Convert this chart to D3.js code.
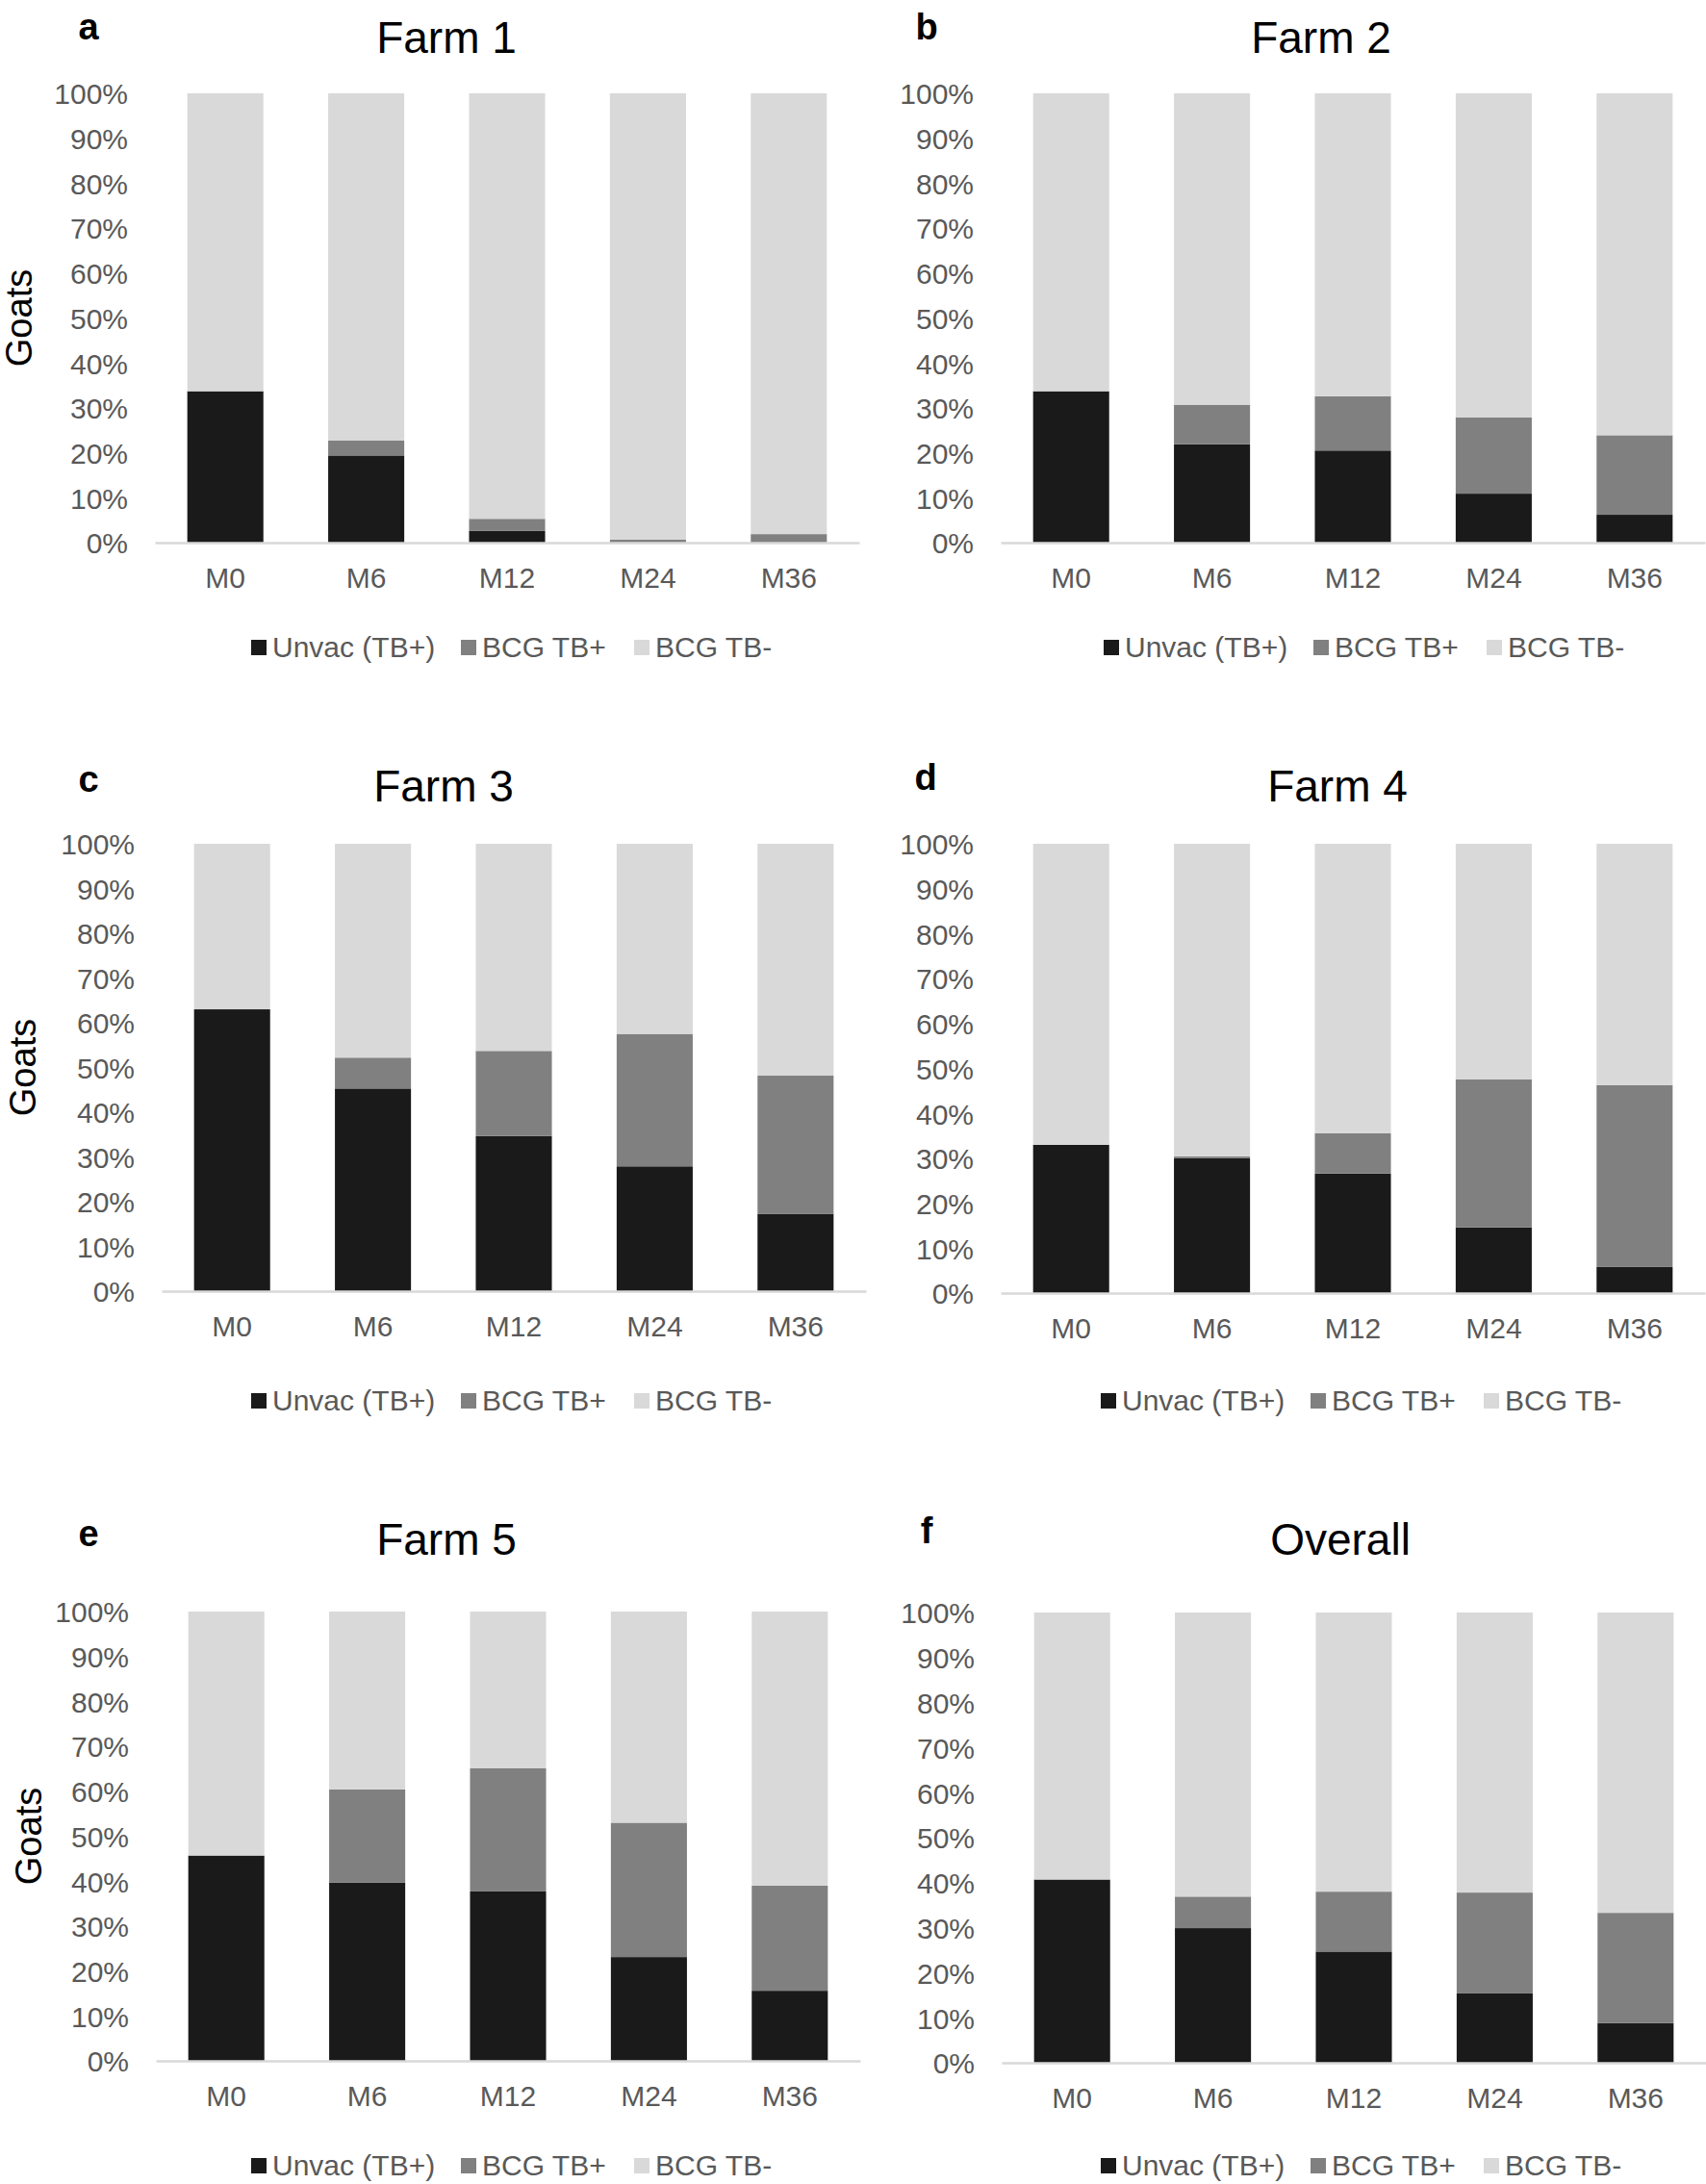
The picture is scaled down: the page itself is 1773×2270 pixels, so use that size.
<!DOCTYPE html>
<html>
<head>
<meta charset="utf-8">
<script src="https://cdn.jsdelivr.net/npm/d3@7"></script>
<style>
  body { margin: 0; background: #fff; }
  svg { display: block; font-family: "Liberation Sans", Arial, sans-serif; }
</style>
</head>
<body>
<svg id="chart" width="1773" height="2270"></svg>
<script>
// time points and series
const months = ["M0", "M6", "M12", "M24", "M36"];
const seriesNames = ["Unvac (TB+)", "BCG TB+", "BCG TB-"];
const panelTitles = ["Farm 1", "Farm 2", "Farm 3", "Farm 4", "Farm 5", "Overall"];
const panelLetters = ["a", "b", "c", "d", "e", "f"];
const yTicks = [0, 10, 20, 30, 40, 50, 60, 70, 80, 90, 100];

// percentages (M0, M6, M12, M24, M36)
const farm1Unvac = [33.7, 19.4, 2.6, 0, 0];
const farm1BcgPos = [0, 3.3, 2.7, 0.7, 1.9];
const farm1BcgNeg = [66.3, 77.3, 94.7, 99.3, 98.1];

const farm2Unvac = [33.7, 21.9, 20.5, 10.9, 6.2];
const farm2BcgPos = [0, 8.8, 12.1, 17.0, 17.7];
const farm2BcgNeg = [66.3, 69.3, 67.4, 72.1, 76.1];

const farm3Unvac = [63.0, 45.3, 34.7, 27.9, 17.3];
const farm3BcgPos = [0, 6.9, 19.0, 29.6, 30.9];
const farm3BcgNeg = [37.0, 47.8, 46.3, 42.5, 51.8];

const farm4Unvac = [33.0, 30.0, 26.6, 14.6, 5.8];
const farm4BcgPos = [0, 0.4, 9.0, 33.0, 40.5];
const farm4BcgNeg = [67.0, 69.6, 64.4, 52.4, 53.7];

const farm5Unvac = [45.7, 39.7, 37.7, 23.1, 15.6];
const farm5BcgPos = [0, 20.7, 27.4, 29.9, 23.4];
const farm5BcgNeg = [54.3, 39.6, 34.9, 47.0, 61.0];

const overallUnvac = [40.7, 29.9, 24.7, 15.4, 8.8];
const overallBcgPos = [0, 7.0, 13.3, 22.4, 24.5];
const overallBcgNeg = [59.3, 63.1, 62.0, 62.2, 66.7];

const panelSeries = [
  [farm1Unvac, farm1BcgPos, farm1BcgNeg],
  [farm2Unvac, farm2BcgPos, farm2BcgNeg],
  [farm3Unvac, farm3BcgPos, farm3BcgNeg],
  [farm4Unvac, farm4BcgPos, farm4BcgNeg],
  [farm5Unvac, farm5BcgPos, farm5BcgNeg],
  [overallUnvac, overallBcgPos, overallBcgNeg]
];

const colors = ["#1a1a1a", "#808080", "#d9d9d9"];

// panel geometry (plot boxes and text anchors)
const layout = [
  { x0: 161, top: 97, bottom: 564, titleX: 464, titleY: 39, letterX: 92, letterY: 28, goatsX: 20, legendX: 261, legendY: 672 },
  { x0: 1040, top: 97, bottom: 564, titleX: 1373, titleY: 39, letterX: 963, letterY: 28, goatsX: null, legendX: 1147, legendY: 672 },
  { x0: 168, top: 877, bottom: 1342, titleX: 461, titleY: 817, letterX: 92, letterY: 810, goatsX: 24, legendX: 261, legendY: 1455 },
  { x0: 1040, top: 877, bottom: 1344, titleX: 1390, titleY: 817, letterX: 962, letterY: 808, goatsX: null, legendX: 1144, legendY: 1455 },
  { x0: 162, top: 1675, bottom: 2142, titleX: 464, titleY: 1600, letterX: 92, letterY: 1594, goatsX: 30, legendX: 261, legendY: 2250 },
  { x0: 1041, top: 1676, bottom: 2144, titleX: 1393, titleY: 1600, letterX: 963, letterY: 1591, goatsX: null, legendX: 1144, legendY: 2250 }
];

const svg = d3.select("#chart");
const plotWidth = 732;
const legendOffsets = [0, 218, 398];

layout.forEach((p, i) => {
  const g = svg.append("g");

  const rows = months.map((m, j) => ({
    month: m,
    [seriesNames[0]]: panelSeries[i][0][j],
    [seriesNames[1]]: panelSeries[i][1][j],
    [seriesNames[2]]: panelSeries[i][2][j]
  }));
  const stacked = d3.stack().keys(seriesNames)(rows);

  const x = d3.scaleBand()
    .domain(months)
    .range([p.x0, p.x0 + plotWidth])
    .paddingInner(0.46)
    .paddingOuter(0.23);

  const y = d3.scaleLinear().domain([0, 100]).range([p.bottom, p.top]);

  // bars
  g.selectAll("g.layer")
    .data(stacked)
    .join("g")
    .attr("class", "layer")
    .attr("fill", (d, k) => colors[k])
    .selectAll("rect")
    .data(d => d)
    .join("rect")
    .attr("x", d => x(d.data.month))
    .attr("width", x.bandwidth())
    .attr("y", d => y(d[1]))
    .attr("height", d => y(d[0]) - y(d[1]));

  // y axis
  const yAxis = g.append("g")
    .attr("transform", `translate(${p.x0},0)`)
    .call(d3.axisLeft(y).tickValues(yTicks).tickSize(0).tickPadding(28).tickFormat(d => d + "%"));
  yAxis.select(".domain").remove();
  yAxis.selectAll("text")
    .attr("fill", "#595959")
    .style("font-size", "30px")
    .attr("dy", "0.36em");

  // x axis
  const xAxis = g.append("g")
    .attr("transform", `translate(0,${p.bottom})`)
    .call(d3.axisBottom(x).tickSize(0).tickPadding(26));
  xAxis.select(".domain")
    .attr("stroke", "#d9d9d9")
    .attr("stroke-width", 2.5);
  xAxis.selectAll("text")
    .attr("fill", "#595959")
    .style("font-size", "30px");

  // title and panel letter
  g.append("text")
    .attr("x", p.titleX)
    .attr("y", p.titleY)
    .attr("text-anchor", "middle")
    .attr("dominant-baseline", "central")
    .style("font-size", "46px")
    .attr("fill", "#000")
    .text(panelTitles[i]);

  g.append("text")
    .attr("x", p.letterX)
    .attr("y", p.letterY)
    .attr("text-anchor", "middle")
    .attr("dominant-baseline", "central")
    .style("font-size", "38px")
    .style("font-weight", "bold")
    .attr("fill", "#000")
    .text(panelLetters[i]);

  if (p.goatsX !== null) {
    const cy = (p.top + p.bottom) / 2;
    g.append("text")
      .attr("transform", `translate(${p.goatsX},${cy}) rotate(-90)`)
      .attr("text-anchor", "middle")
      .attr("dominant-baseline", "central")
      .style("font-size", "38px")
      .attr("fill", "#000")
      .text("Goats");
  }

  // legend
  const legend = g.append("g")
    .selectAll("g")
    .data(seriesNames)
    .join("g")
    .attr("transform", (d, k) => `translate(${p.legendX + legendOffsets[k]},${p.legendY})`);
  legend.append("rect")
    .attr("x", 0)
    .attr("y", -7)
    .attr("width", 16)
    .attr("height", 16)
    .attr("fill", (d, k) => colors[k]);
  legend.append("text")
    .attr("x", 22)
    .attr("y", 0)
    .attr("dominant-baseline", "central")
    .attr("fill", "#595959")
    .style("font-size", "30px")
    .text(d => d);
});
</script>
</body>
</html>
